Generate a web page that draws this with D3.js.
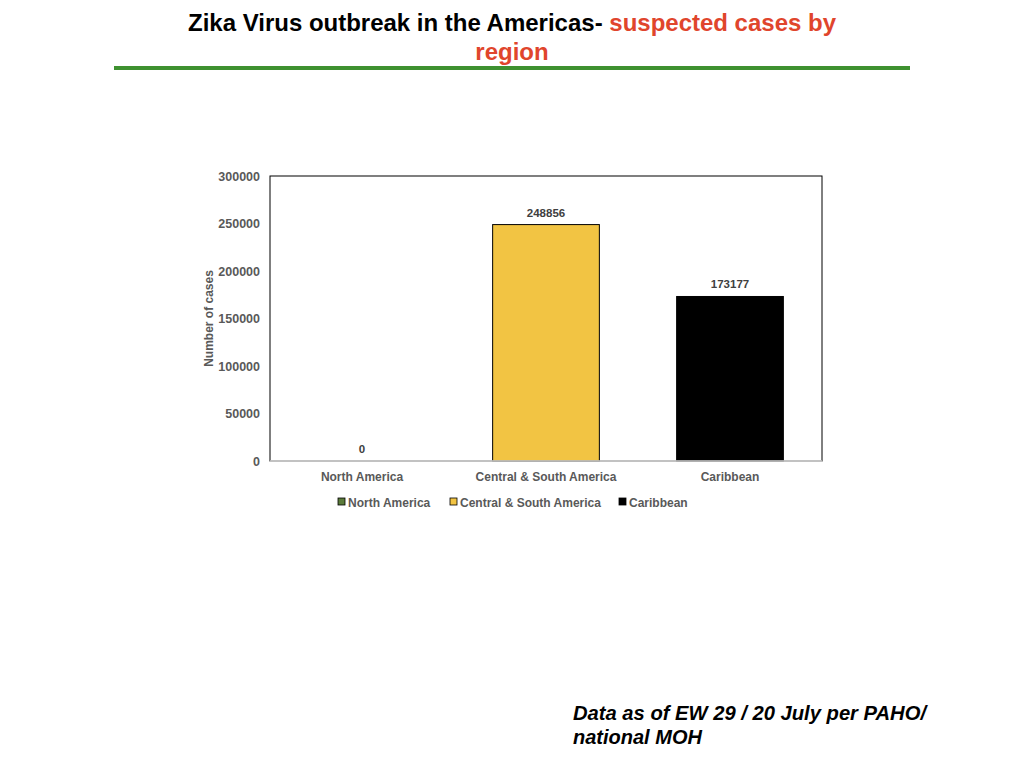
<!DOCTYPE html>
<html><head><meta charset="utf-8">
<script src="https://cdn.jsdelivr.net/npm/d3@7"></script>
<style>body{margin:0;background:#fff;}svg{display:block;}</style>
</head><body>
<svg id="c" width="1024" height="768"></svg>
<script>
const categories = ["North America", "Central & South America", "Caribbean"];
const values = [0, 248856, 173177];
const colors = ["#5a7a3a", "#f2c443", "#000000"];
const yTicks = [0, 50000, 100000, 150000, 200000, 250000, 300000];

const svg = d3.select("#c");
const grey = "#595959";
const font = "'Liberation Sans', Arial, sans-serif";

// Title
const t = svg.append("text").attr("x", 512).attr("y", 31).attr("text-anchor", "middle")
  .attr("font-family", font).attr("font-weight", "bold").attr("font-size", 24)
  .attr("textLength", 648).attr("lengthAdjust", "spacingAndGlyphs");
t.append("tspan").attr("fill", "#000").text("Zika Virus outbreak in the Americas- ");
t.append("tspan").attr("fill", "#e0452c").text("suspected cases by");
svg.append("text").attr("x", 512).attr("y", 60).attr("text-anchor", "middle")
  .attr("font-family", font).attr("font-weight", "bold").attr("font-size", 24)
  .attr("fill", "#e0452c").text("region");
svg.append("rect").attr("x", 114).attr("y", 66).attr("width", 796).attr("height", 4).attr("fill", "#3e9130");

// Plot
const L = 270, R = 822, T = 176, B = 461;
const x = d3.scaleBand().domain(categories).range([L, R]).paddingInner(0.42).paddingOuter(0.21);
const y = d3.scaleLinear().domain([0, 300000]).range([B, T]);

svg.append("rect").attr("x", L).attr("y", T).attr("width", R - L).attr("height", B - T)
  .attr("fill", "none").attr("stroke", "#000").attr("stroke-width", 1);

svg.selectAll(".bar").data(values).enter().append("rect")
  .attr("x", (d, i) => x(categories[i])).attr("width", x.bandwidth())
  .attr("y", d => y(d)).attr("height", d => B - y(d))
  .attr("fill", (d, i) => colors[i]).attr("stroke", "#000").attr("stroke-width", 1);

svg.append("line").attr("x1", L).attr("x2", R).attr("y1", B).attr("y2", B).attr("stroke", "#d9d9d9").attr("stroke-width", 1.5);

// Y axis
const ya = svg.append("g").attr("transform", `translate(${L},0)`)
  .call(d3.axisLeft(y).tickValues(yTicks).tickSize(0).tickPadding(10).tickFormat(d3.format("d")));
ya.select(".domain").remove();
ya.selectAll("text").attr("font-family", font).attr("font-weight", "bold").attr("font-size", 12.5).attr("fill", grey);

// X axis
const xa = svg.append("g").attr("transform", `translate(0,${B})`)
  .call(d3.axisBottom(x).tickSize(0).tickPadding(11));
xa.select(".domain").remove();
xa.selectAll("text").attr("font-family", font).attr("font-weight", "bold").attr("font-size", 12).attr("fill", grey);

// Y label
svg.append("text").attr("transform", `translate(213,${(T + B) / 2}) rotate(-90)`)
  .attr("text-anchor", "middle").attr("font-family", font).attr("font-weight", "bold")
  .attr("font-size", 12).attr("fill", grey).text("Number of cases");

// Data labels
svg.selectAll(".lbl").data(values).enter().append("text")
  .attr("x", (d, i) => x(categories[i]) + x.bandwidth() / 2)
  .attr("y", d => y(d) - 8).attr("text-anchor", "middle")
  .attr("font-family", font).attr("font-weight", "bold").attr("font-size", 11.5).attr("fill", "#404040")
  .text(d => d);

// Legend
const legX = [338, 450, 619];
const lg = svg.selectAll(".leg").data(categories).enter().append("g")
  .attr("transform", (d, i) => `translate(${legX[i]},502)`);
lg.append("rect").attr("x", 0).attr("y", -4).attr("width", 7).attr("height", 7)
  .attr("fill", (d, i) => colors[i]).attr("stroke", "#000").attr("stroke-width", 0.8);
lg.append("text").attr("x", 10).attr("y", 4.5).attr("font-family", font).attr("font-weight", "bold")
  .attr("font-size", 12).attr("fill", grey).text(d => d);

// Footer
const f = svg.append("text").attr("font-family", font)
  .attr("font-weight", "bold").attr("font-style", "italic").attr("font-size", 20).attr("fill", "#000");
f.append("tspan").attr("x", 573).attr("y", 720).attr("textLength", 353).attr("lengthAdjust", "spacingAndGlyphs")
  .text("Data as of EW 29 / 20 July per PAHO/");
f.append("tspan").attr("x", 573).attr("y", 744).text("national MOH");
</script>
</body></html>
